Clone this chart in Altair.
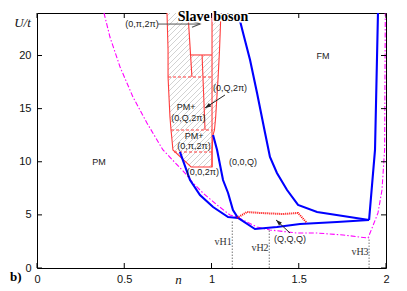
import math
import altair as alt
import pandas as pd

W, H = 349, 255
NMAX, UMAX = 2.0, 24.0

# ---------------- data (n, U/t) ----------------
mag_n = [0.384, 0.418, 0.476, 0.550, 0.630, 0.722, 0.848, 0.894, 0.951, 1.032, 1.106, 1.146,
         1.203, 1.261, 1.335, 1.490, 1.605, 1.754, 1.897, 1.920, 1.954, 1.977, 1.992, 1.996]
mag_U = [24.0, 21.74, 18.92, 16.09, 13.65, 11.11, 8.94, 8.00, 7.06, 5.93, 4.99, 4.80,
         4.33, 3.86, 3.58, 3.29, 3.29, 3.11, 2.82, 3.76, 5.18, 7.34, 11.11, 24.0]

blueA_n = [0.819, 0.877, 0.934, 1.009, 1.095, 1.152]
blueA_U = [10.92, 8.28, 6.87, 5.74, 4.80, 4.71]
blueB_n = [1.009, 1.032, 1.066, 1.095, 1.123, 1.152]
blueB_U = [12.52, 11.11, 8.28, 7.06, 5.46, 4.71]
blueLow_n = [1.152, 1.249, 1.375, 1.507, 1.719, 1.903]
blueLow_U = [4.71, 3.67, 3.86, 4.14, 4.33, 4.52]
blueC_n = [1.152, 1.181, 1.221, 1.261, 1.307, 1.335, 1.375, 1.433, 1.496, 1.605, 1.903]
blueC_U = [24.0, 22.12, 19.58, 16.47, 12.71, 10.45, 8.94, 7.34, 5.93, 5.27, 4.52]
blueD_n = [1.903, 1.937, 1.954]
blueD_U = [4.52, 11.11, 24.0]

qqq_n = [1.146, 1.203, 1.278, 1.410, 1.496, 1.547]
qqq_U = [4.71, 5.27, 5.18, 5.08, 5.18, 4.24]

# hatched PM+ region: left / right boundary at each U
hatch_U = [9.51, 11.11, 12.52, 12.99, 14.21, 17.98, 20.52, 24.0]
hatch_nL = [0.883, 0.779, 0.771, 0.768, 0.762, 0.751, 0.751, 0.745]
hatch_nR = [1.003, 1.003, 1.009, 1.017, 1.024, 1.038, 1.046, 1.054]

# unhatched (0,pi,2pi) pocket at the top
pocket_U = [20.05, 24.0]
pocket_nL = [0.881, 0.865]
pocket_nR = [1.003, 1.003]

# inner red solid lines
red_lines = {
    "L1": ([0.865, 0.888], [24.0, 17.98]),
    "top": ([0.881, 1.003], [20.05, 20.05]),
    "L2": ([0.946, 0.963], [20.05, 12.99]),
    "L3": ([1.003, 1.003], [24.0, 9.51]),
}
# red dashed lines
dash_U = [17.98, 12.99, 10.92]
dash_n0 = [0.751, 0.768, 0.785]
dash_n1 = [1.009, 1.003, 1.003]

# van Hove lines
vh_n = [1.119, 1.331, 1.903]
vh_top = [4.5, 3.6, 2.85]
vh_txt = ["vH1", "vH2", "vH3"]
vh_lab_n = [1.066, 1.278, 1.851]
vh_lab_U = [2.45, 1.88, 1.50]

# region labels
lab_txt = ["PM", "FM", "(0,0,Q)", "PM+", "(0,Q,2π)", "PM+", "(0,π,2π)", "(0,0,2π)",
           "(0,π,2π)", "(0,Q,2π)", "(Q,Q,Q)"]
lab_n = [0.355, 1.639, 1.181, 0.854, 0.868, 0.900, 0.900, 0.951, 0.602, 1.106, 1.450]
lab_U = [9.98, 19.95, 9.98, 15.20, 14.15, 12.45, 11.50, 9.04, 22.96, 16.94, 2.73]

# arrows (tail -> tip)
arr_key = ["a1", "a2", "a3"]
arr_n0 = [0.693, 1.077, 1.450]
arr_U0 = [22.96, 16.28, 3.29]
arr_n1 = [0.934, 0.963, 1.370]
arr_U1 = [22.96, 15.06, 4.52]

x_ticks = [0, 0.5, 1, 1.5, 2]
y_ticks = [0, 5, 10, 15, 20]

# ---------------- helpers ----------------
def sdf(key, ns, Us):
    return pd.DataFrame({"n": ns, "U": Us, "key": key, "ord": list(range(len(ns)))})

xs = alt.Scale(domain=[0, NMAX], nice=False, zero=False)
ys = alt.Scale(domain=[0, UMAX], nice=False, zero=False)
x_axis = alt.Axis(values=x_ticks, format="~g", labelPadding=5, labelFlush=False,
                  title="n", titleX=141, titleY=11, titleBaseline="middle",
                  titleAlign="center", titleAngle=0)
y_axis = alt.Axis(values=y_ticks, format="d", labelPadding=6, labelFlush=False,
                  title="U/t", titleAngle=0, titleX=-15, titleY=9,
                  titleAlign="center", titleBaseline="middle")
X = alt.X("n:Q", scale=xs, axis=x_axis)
Y = alt.Y("U:Q", scale=ys, axis=y_axis)

# ---------------- hatch fill via striped gradient ----------------
Wpx = (max(hatch_nR) - min(hatch_nL)) / NMAX * W
Hpx = (UMAX - min(hatch_U)) / UMAX * H
den = Wpx ** 2 + Hpx ** 2
step = 5.5 * Wpx / den
thick = 1.0 * Wpx / den
tmax = (Wpx + Hpx) * Wpx / den
stops = [{"offset": 0.0, "color": "#ffffff"}]
t = step / 2
while t + thick < min(tmax + step, 0.999):
    stops += [{"offset": t, "color": "#ffffff"}, {"offset": t, "color": "#d2d2d2"},
              {"offset": t + thick, "color": "#d2d2d2"}, {"offset": t + thick, "color": "#ffffff"}]
    t += step
stops.append({"offset": 1.0, "color": "#ffffff"})
hatch_fill = {"gradient": "linear", "x1": 0, "y1": 0, "x2": 1, "y2": Hpx / Wpx, "stops": stops}

hatch_df = pd.DataFrame({"U": hatch_U, "n": hatch_nL, "n2": hatch_nR})
hatch = alt.Chart(hatch_df).mark_area(orient="horizontal", fill=hatch_fill, stroke=None).encode(
    y=Y, x=X, x2="n2:Q")
pocket_df = pd.DataFrame({"U": pocket_U, "n": pocket_nL, "n2": pocket_nR})
pocket = alt.Chart(pocket_df).mark_area(orient="horizontal", fill="white").encode(
    y=Y, x=X, x2="n2:Q")

# outline of hatched region
out_n = hatch_nL[::-1] + hatch_nR
out_U = hatch_U[::-1] + hatch_U
red_df = pd.concat([sdf("outline", out_n, out_U)] +
                   [sdf(k, v[0], v[1]) for k, v in red_lines.items()])
red = alt.Chart(red_df).mark_line(color="#ff3b3b", strokeWidth=1.1).encode(
    x=X, y=Y, detail="key:N", order="ord:Q")

dash_df = pd.concat([sdf(f"d{i}", [dash_n0[i], dash_n1[i]], [dash_U[i], dash_U[i]])
                     for i in range(len(dash_U))])
dashed = alt.Chart(dash_df).mark_line(color="#ff3b3b", strokeWidth=1.1, strokeDash=[3, 2]).encode(
    x=X, y=Y, detail="key:N", order="ord:Q")

mag = alt.Chart(sdf("m", mag_n, mag_U)).mark_line(
    color="#ff00ff", strokeWidth=1.1, strokeDash=[5, 2, 1.5, 2]).encode(x=X, y=Y, order="ord:Q")

vh_df = pd.concat([sdf(f"v{i}", [vh_n[i], vh_n[i]], [0, vh_top[i]]) for i in range(3)])
vh = alt.Chart(vh_df).mark_line(color="#777777", strokeWidth=1, strokeDash=[1.5, 1.5]).encode(
    x=X, y=Y, detail="key:N", order="ord:Q")

blue_df = pd.concat([sdf("A", blueA_n, blueA_U), sdf("B", blueB_n, blueB_U),
                     sdf("L", blueLow_n, blueLow_U), sdf("C", blueC_n, blueC_U),
                     sdf("D", blueD_n, blueD_U)])
blue = alt.Chart(blue_df).mark_line(color="#0000ff", strokeWidth=2.1).encode(
    x=X, y=Y, detail="key:N", order="ord:Q")

qqq = alt.Chart(sdf("q", qqq_n, qqq_U)).mark_line(
    color="#ff0000", strokeWidth=2, strokeDash=[1, 1]).encode(x=X, y=Y, order="ord:Q")

# arrows
arr_df = pd.concat([sdf(arr_key[i], [arr_n0[i], arr_n1[i]], [arr_U0[i], arr_U1[i]]) for i in range(3)])
arr_df["col"] = arr_df["key"].map({"a1": "g", "a2": "k", "a3": "k"})
arrows = alt.Chart(arr_df).mark_line(strokeWidth=1).encode(
    x=X, y=Y, detail="key:N", order="ord:Q",
    color=alt.Color("col:N", scale=alt.Scale(domain=["g", "k"], range=["#555555", "#222222"]), legend=None))

def ang(i):
    dx = (arr_n1[i] - arr_n0[i]) / NMAX * W
    dy = -(arr_U1[i] - arr_U0[i]) / UMAX * H
    return math.degrees(math.atan2(dx, -dy)) % 360

head_open = pd.DataFrame({"n": [arr_n1[0]], "U": [arr_U1[0]], "ang": [ang(0)]})
head1 = alt.Chart(head_open).mark_point(shape="M-0.8,2L0,0L0.8,2", filled=False, size=64,
                                        color="#555555", strokeWidth=1.2, opacity=1).encode(
    x=X, y=Y, angle=alt.Angle("ang:Q", scale=None))
head_fill = pd.DataFrame({"n": arr_n1[1:], "U": arr_U1[1:], "ang": [ang(1), ang(2)]})
head2 = alt.Chart(head_fill).mark_point(shape="M0,0L-0.7,2L0.7,2Z", filled=True, size=36,
                                        color="#222222", opacity=1).encode(
    x=X, y=Y, angle=alt.Angle("ang:Q", scale=None))

labels = alt.Chart(pd.DataFrame({"n": lab_n, "U": lab_U, "txt": lab_txt})).mark_text(
    font="Liberation Sans", fontSize=9, color="#222222").encode(x=X, y=Y, text="txt:N")
vh_labels = alt.Chart(pd.DataFrame({"n": vh_lab_n, "U": vh_lab_U, "txt": vh_txt})).mark_text(
    font="Liberation Serif", fontSize=10, color="#333333").encode(x=X, y=Y, text="txt:N")

# inward ticks on all four sides
xt_df = pd.DataFrame({"n": x_ticks})
yt_df = pd.DataFrame({"U": y_ticks})
tick_bot = alt.Chart(xt_df).mark_rule(color="black").encode(x=X, y=alt.value(H), y2=alt.value(H - 5))
tick_top = alt.Chart(xt_df).mark_rule(color="black").encode(x=X, y=alt.value(0), y2=alt.value(5))
tick_left = alt.Chart(yt_df).mark_rule(color="black").encode(y=Y, x=alt.value(0), x2=alt.value(5))
tick_right = alt.Chart(yt_df).mark_rule(color="black").encode(y=Y, x=alt.value(W), x2=alt.value(W - 5))

title_df = pd.DataFrame({"t": ["Slave boson"]})
title_halo = alt.Chart(title_df).mark_text(font="Liberation Serif", fontWeight="bold", fontSize=14,
                                           stroke="white", strokeWidth=3, color="white").encode(
    x=alt.value(176), y=alt.value(4), text="t:N")
title = alt.Chart(title_df).mark_text(font="Liberation Serif", fontWeight="bold", fontSize=14,
                                      color="black").encode(
    x=alt.value(176), y=alt.value(4), text="t:N")
panel = alt.Chart(pd.DataFrame({"t": ["b)"]})).mark_text(
    font="Liberation Serif", fontWeight="bold", fontSize=13, align="left", baseline="alphabetic",
    color="black").encode(x=alt.value(-27), y=alt.value(268), text="t:N")

chart = alt.layer(
    hatch, pocket, mag, vh, red, dashed, blue, qqq, arrows, head1, head2,
    labels, vh_labels, tick_bot, tick_top, tick_left, tick_right, title_halo, title, panel
).properties(
    width=W, height=H,
    autosize=alt.AutoSizeParams(type="none"),
    padding={"left": 29, "top": 5, "right": 13, "bottom": 20},
).configure_view(stroke="black", strokeWidth=1).configure_axis(
    grid=False, domain=False, ticks=False,
    labelFont="Liberation Sans", labelFontSize=11, labelColor="#111111",
    titleFont="Liberation Serif", titleFontStyle="italic", titleFontWeight="normal",
    titleFontSize=13, titleColor="#111111")

chart.save("out.html", embed_options={"renderer": "svg", "actions": False})
